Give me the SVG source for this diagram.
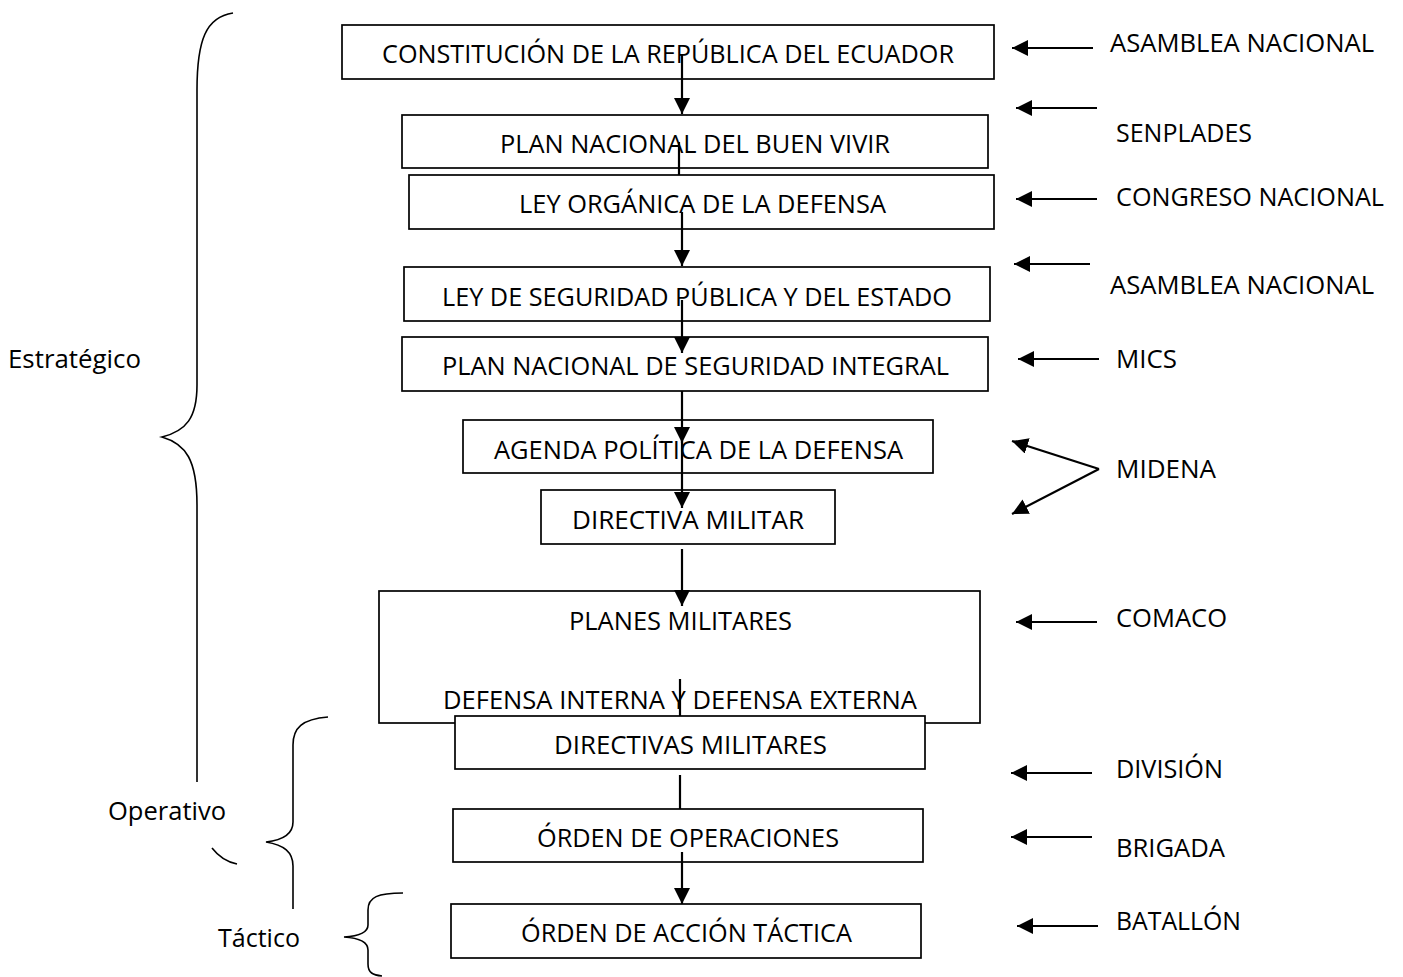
<svg xmlns="http://www.w3.org/2000/svg" width="1403" height="977" viewBox="0 0 1403 977">
<style>
.box{fill:#fff;stroke:#000;stroke-width:1.7}
.t{font-family:"Open Sans","Liberation Sans",sans-serif;font-size:26px;fill:#000}
.c{stroke:#000;stroke-width:2.2;fill:none}
.br{stroke:#000;stroke-width:1.6;fill:none}
</style>
<defs>
<marker id="ah" markerUnits="userSpaceOnUse" markerWidth="18" markerHeight="17" refX="16" refY="8" orient="auto">
<path d="M0,0 L16,8 L0,16 z" fill="#000"/>
</marker>
</defs>
<rect width="1403" height="977" fill="#fff"/>

<g id="braces">
<path class="br" d="M233,13 C206,17 197,40 197,90 L197,385 C197,418 186,431 162,437 C186,444 197,460 197,505 L197,782"/>
<path class="br" d="M328,717 C302,719 293,728 293,745 L293,822 C293,834 284,840 266,842 C284,845 293,852 293,866 L293,909"/>
<path class="br" d="M212,848 Q222,861 237,864"/>
<path class="br" d="M403,893 C378,893 368,897 368,910 L368,925 C368,932 360,936 344,937 C360,938 368,942 368,950 L368,964 C368,973 373,975 382,976"/>
</g>

<g id="levels">
<text class="t" x="8" y="368" textLength="133" lengthAdjust="spacingAndGlyphs">Estratégico</text>
<text class="t" x="108" y="820" textLength="118" lengthAdjust="spacingAndGlyphs">Operativo</text>
<text class="t" x="218" y="947" textLength="82" lengthAdjust="spacingAndGlyphs">Táctico</text>
</g>

<g id="n1"><rect class="box" x="342" y="25" width="652" height="54"/>
<text class="t" x="382" y="63" textLength="572" lengthAdjust="spacingAndGlyphs">CONSTITUCIÓN DE LA REPÚBLICA DEL ECUADOR</text></g>
<g id="n2"><rect class="box" x="402" y="115" width="586" height="53"/>
<text class="t" x="500" y="153" textLength="390" lengthAdjust="spacingAndGlyphs">PLAN NACIONAL DEL BUEN VIVIR</text></g>
<g id="n3"><rect class="box" x="409" y="175" width="585" height="54"/>
<text class="t" x="519" y="213" textLength="367" lengthAdjust="spacingAndGlyphs">LEY ORGÁNICA DE LA DEFENSA</text></g>
<g id="n4"><rect class="box" x="404" y="267" width="586" height="54"/>
<text class="t" x="442" y="306" textLength="510" lengthAdjust="spacingAndGlyphs">LEY DE SEGURIDAD PÚBLICA Y DEL ESTADO</text></g>
<g id="n5"><rect class="box" x="402" y="337" width="586" height="54"/>
<text class="t" x="442" y="375" textLength="507" lengthAdjust="spacingAndGlyphs">PLAN NACIONAL DE SEGURIDAD INTEGRAL</text></g>
<g id="n6"><rect class="box" x="463" y="420" width="470" height="53"/>
<text class="t" x="494" y="459" textLength="409" lengthAdjust="spacingAndGlyphs">AGENDA POLÍTICA DE LA DEFENSA</text></g>
<g id="n7"><rect class="box" x="541" y="490" width="294" height="54"/>
<text class="t" x="572" y="529" textLength="232" lengthAdjust="spacingAndGlyphs">DIRECTIVA MILITAR</text></g>
<g id="n8"><rect class="box" x="379" y="591" width="601" height="132"/>
<text class="t" x="569" y="630" textLength="223" lengthAdjust="spacingAndGlyphs">PLANES MILITARES</text>
<text class="t" x="443" y="709" textLength="474" lengthAdjust="spacingAndGlyphs">DEFENSA INTERNA Y DEFENSA EXTERNA</text></g>
<g id="n9"><rect class="box" x="455" y="716" width="470" height="53"/>
<text class="t" x="554" y="754" textLength="273" lengthAdjust="spacingAndGlyphs">DIRECTIVAS MILITARES</text></g>
<g id="n10"><rect class="box" x="453" y="809" width="470" height="53"/>
<text class="t" x="537" y="847" textLength="302" lengthAdjust="spacingAndGlyphs">ÓRDEN DE OPERACIONES</text></g>
<g id="n11"><rect class="box" x="451" y="904" width="470" height="54"/>
<text class="t" x="521" y="942" textLength="331" lengthAdjust="spacingAndGlyphs">ÓRDEN DE ACCIÓN TÁCTICA</text></g>

<g id="actors">
<text class="t" x="1110" y="52" textLength="264" lengthAdjust="spacingAndGlyphs">ASAMBLEA NACIONAL</text>
<text class="t" x="1116" y="142" textLength="136" lengthAdjust="spacingAndGlyphs">SENPLADES</text>
<text class="t" x="1116" y="206" textLength="268" lengthAdjust="spacingAndGlyphs">CONGRESO NACIONAL</text>
<text class="t" x="1110" y="294" textLength="264" lengthAdjust="spacingAndGlyphs">ASAMBLEA NACIONAL</text>
<text class="t" x="1116" y="368" textLength="61" lengthAdjust="spacingAndGlyphs">MICS</text>
<text class="t" x="1116" y="478" textLength="100" lengthAdjust="spacingAndGlyphs">MIDENA</text>
<text class="t" x="1116" y="627" textLength="111" lengthAdjust="spacingAndGlyphs">COMACO</text>
<text class="t" x="1116" y="778" textLength="107" lengthAdjust="spacingAndGlyphs">DIVISIÓN</text>
<text class="t" x="1116" y="857" textLength="109" lengthAdjust="spacingAndGlyphs">BRIGADA</text>
<text class="t" x="1116" y="930" textLength="125" lengthAdjust="spacingAndGlyphs">BATALLÓN</text>
</g>

<g id="connectors">
<line class="c" x1="682" y1="55" x2="682" y2="114" marker-end="url(#ah)"/>
<line class="c" x1="679" y1="142" x2="679" y2="175"/>
<line class="c" x1="682" y1="212" x2="682" y2="266" marker-end="url(#ah)"/>
<line class="c" x1="682" y1="300" x2="682" y2="353" marker-end="url(#ah)"/>
<line class="c" x1="682" y1="391" x2="682" y2="443" marker-end="url(#ah)"/>
<line class="c" x1="682" y1="440" x2="682" y2="508" marker-end="url(#ah)"/>
<line class="c" x1="682" y1="549" x2="682" y2="606" marker-end="url(#ah)"/>
<line class="c" x1="680" y1="679" x2="680" y2="716"/>
<line class="c" x1="680" y1="775" x2="680" y2="809"/>
<line class="c" x1="682" y1="852" x2="682" y2="904" marker-end="url(#ah)"/>

<line class="c" x1="1093" y1="48" x2="1012" y2="48" marker-end="url(#ah)"/>
<line class="c" x1="1097" y1="108" x2="1016" y2="108" marker-end="url(#ah)"/>
<line class="c" x1="1097" y1="199" x2="1016" y2="199" marker-end="url(#ah)"/>
<line class="c" x1="1090" y1="264" x2="1014" y2="264" marker-end="url(#ah)"/>
<line class="c" x1="1099" y1="359" x2="1018" y2="359" marker-end="url(#ah)"/>
<line class="c" x1="1099" y1="469" x2="1012" y2="441" marker-end="url(#ah)"/>
<line class="c" x1="1099" y1="469" x2="1012" y2="514" marker-end="url(#ah)"/>
<line class="c" x1="1097" y1="622" x2="1016" y2="622" marker-end="url(#ah)"/>
<line class="c" x1="1092" y1="773" x2="1011" y2="773" marker-end="url(#ah)"/>
<line class="c" x1="1092" y1="837" x2="1011" y2="837" marker-end="url(#ah)"/>
<line class="c" x1="1098" y1="926" x2="1017" y2="926" marker-end="url(#ah)"/>
</g>
</svg>
